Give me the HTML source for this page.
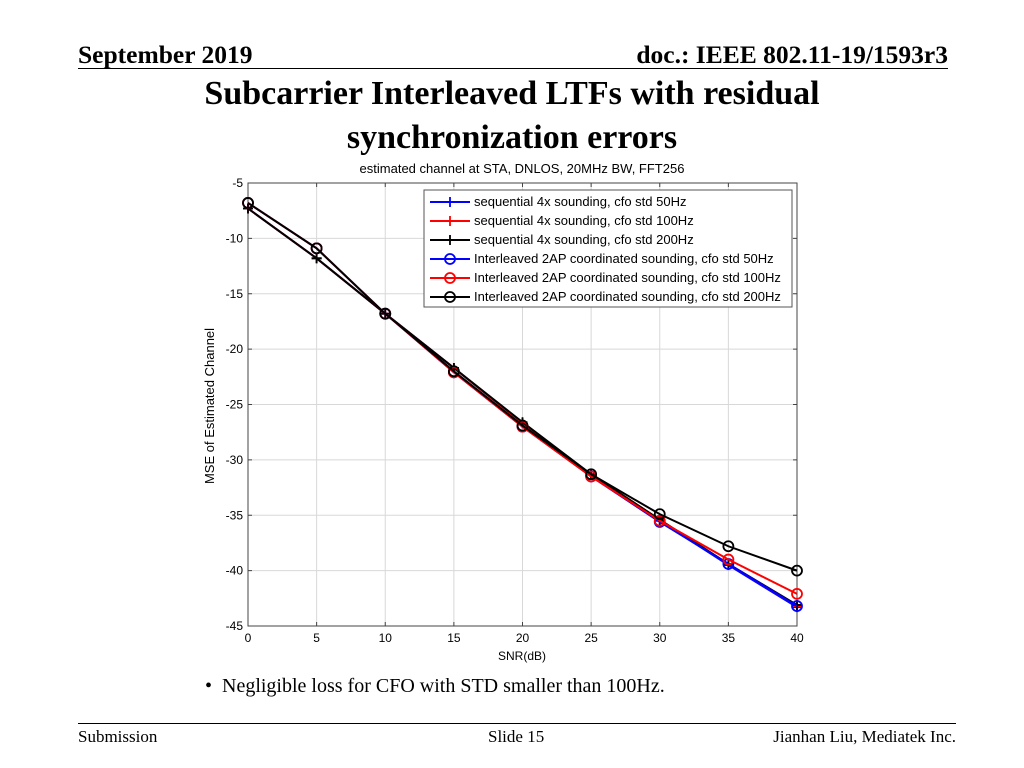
<!DOCTYPE html>
<html><head><meta charset="utf-8"><style>
body{margin:0;width:1024px;height:768px;background:#fff;position:relative;font-family:"Liberation Serif",serif;overflow:hidden}
.a{position:absolute}
</style></head><body>
<div class="a" style="left:78px;top:40px;font-size:25.5px;font-weight:bold">September 2019</div>
<div class="a" style="right:76px;top:40px;font-size:25.5px;font-weight:bold">doc.: IEEE 802.11-19/1593r3</div>
<div class="a" style="left:78px;top:68px;width:870px;height:1px;background:#000"></div>
<div class="a" style="left:150px;width:724px;top:72px;font-size:34px;font-weight:bold;text-align:center;line-height:44px">Subcarrier Interleaved LTFs with residual synchronization errors</div>
<svg class="a" style="left:0;top:0" width="1024" height="768" id="chart" font-family="Liberation Sans, sans-serif"></svg>
<div class="a" style="left:205px;top:675px;font-size:20px">•&nbsp;&nbsp;Negligible loss for CFO with STD smaller than 100Hz.</div>
<div class="a" style="left:78px;top:723px;width:878px;height:1px;background:#000"></div>
<div class="a" style="left:78px;top:727px;font-size:17px">Submission</div>
<div class="a" style="left:488px;top:727px;font-size:17px">Slide 15</div>
<div class="a" style="right:68px;top:727px;font-size:17px">Jianhan Liu, Mediatek Inc.</div>
<script>
const snr=[0,5,10,15,20,25,30,35,40];
const seq50=[-7.3,-11.8,-16.8,-21.7,-26.7,-31.3,-35.5,-39.5,-43.3];
const seq100=[-7.3,-11.8,-16.8,-21.7,-26.7,-31.3,-35.4,-39.4,-43.2];
const seq200=[-7.3,-11.8,-16.8,-21.7,-26.6,-31.3,-35.4,-39.4,-43.1];
const il50=[-6.8,-10.9,-16.8,-22.1,-27.0,-31.5,-35.6,-39.4,-43.2];
const il100=[-6.8,-10.9,-16.8,-22.1,-27.0,-31.5,-35.5,-39.0,-42.1];
const il200=[-6.8,-10.9,-16.8,-22.0,-26.9,-31.3,-34.9,-37.8,-40.0];
const xTicks=[0,5,10,15,20,25,30,35,40];
const yTicks=[-5,-10,-15,-20,-25,-30,-35,-40,-45];
const names=["sequential 4x sounding, cfo std 50Hz","sequential 4x sounding, cfo std 100Hz","sequential 4x sounding, cfo std 200Hz","Interleaved 2AP coordinated sounding, cfo std 50Hz","Interleaved 2AP coordinated sounding, cfo std 100Hz","Interleaved 2AP coordinated sounding, cfo std 200Hz"];
const L=248,R=797,T=183,B=626;
const X=v=>L+(v-0)/40*(R-L), Y=v=>T+(-5-v)/40*(B-T);
const svg=document.getElementById('chart');const NS='http://www.w3.org/2000/svg';
function el(t,a,p){const e=document.createElementNS(NS,t);for(const k in a)e.setAttribute(k,a[k]);(p||svg).appendChild(e);return e;}
xTicks.forEach(t=>{const g=el('line',{x1:X(t),x2:X(t),y1:T,y2:B,stroke:'#d8d8d8','stroke-width':1});

el('line',{x1:X(t),x2:X(t),y1:T,y2:T+4,stroke:'#444'});el('line',{x1:X(t),x2:X(t),y1:B,y2:B-4,stroke:'#444'});
const s=el('text',{x:X(t),y:B+16,'font-size':12,'text-anchor':'middle'});s.textContent=t;
});
yTicks.forEach(t=>{const g=el('line',{x1:L,x2:R,y1:Y(t),y2:Y(t),stroke:'#d8d8d8','stroke-width':1});

el('line',{x1:L,x2:L+4,y1:Y(t),y2:Y(t),stroke:'#444'});el('line',{x1:R,x2:R-4,y1:Y(t),y2:Y(t),stroke:'#444'});
const s=el('text',{x:L-5,y:Y(t)+4,'font-size':12,'text-anchor':'end'});s.textContent=t;
});
const fr=el('rect',{x:L,y:T,width:R-L,height:B-T,fill:'none',stroke:'#444','stroke-width':1});

const series=[[seq50,'#00f','+'],[seq100,'#f00','+'],[seq200,'#000','+'],[il50,'#00f','o'],[il100,'#f00','o'],[il200,'#000','o']];
function marker(x,y,c,m){if(m==='o'){const e=el('circle',{cx:x,cy:y,r:5,fill:'none',stroke:c,'stroke-width':1.8});}
else{const e=el('path',{d:`M${x-5},${y}H${x+5}M${x},${y-5}V${y+5}`,stroke:c,'stroke-width':1.8});}}
series.forEach(([d,c,m])=>{const p=el('polyline',{points:d.map((v,i)=>X(snr[i])+','+Y(v)).join(' '),fill:'none',stroke:c,'stroke-width':2});

d.forEach((v,i)=>marker(X(snr[i]),Y(v),c,m));});
const lg=el('rect',{x:424,y:190,width:368,height:117,fill:'#fff',stroke:'#555','stroke-width':1});

names.forEach((n,i)=>{const y=202+i*19;const c=series[i][1];
const l=el('line',{x1:430,x2:470,y1:y,y2:y,stroke:c,'stroke-width':2});
marker(450,y,c,series[i][2]);
const t=el('text',{x:474,y:y+4,'font-size':13});t.textContent=n;});
const ti=el('text',{x:522,y:173,'font-size':13,'text-anchor':'middle'});ti.textContent='estimated channel at STA, DNLOS, 20MHz BW, FFT256';

const xl=el('text',{x:522,y:660,'font-size':12,'text-anchor':'middle'});xl.textContent='SNR(dB)';

const yl=el('text',{x:0,y:0,'font-size':13,'text-anchor':'middle',transform:'translate(214,406) rotate(-90)'});yl.textContent='MSE  of Estimated Channel';

</script>
</body></html>
